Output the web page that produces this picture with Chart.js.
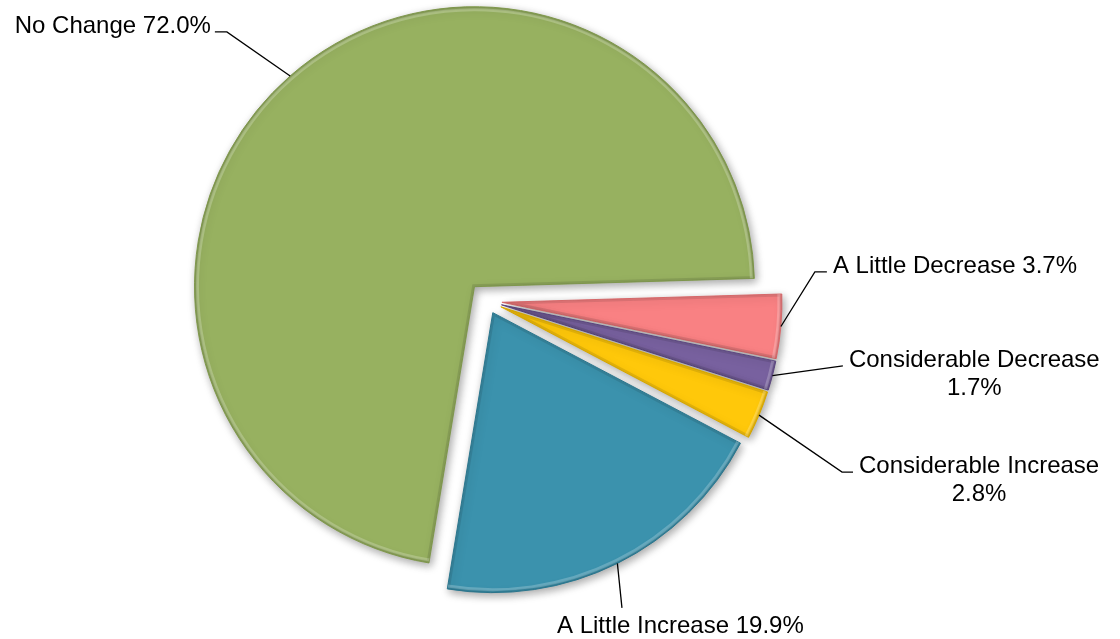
<!DOCTYPE html>
<html>
<head>
<meta charset="utf-8">
<script src="https://cdn.jsdelivr.net/npm/chart.js@4.4.0/dist/chart.umd.min.js"></script>
<style>
  html, body { margin: 0; padding: 0; background: #fff; }
  #wrap { width: 1120px; height: 639px; position: relative; }
</style>
</head>
<body>
<div id="wrap"><canvas id="pie"></canvas></div>
<script>
// data, in the drawing order (clockwise from the right)
const categories = ['A Little Decrease', 'Considerable Decrease', 'Considerable Increase', 'A Little Increase', 'No Change'];
const shares = [3.7, 1.7, 2.8, 19.9, 72.0];

// looks
const sliceColors = ['#F98183', '#78619F', '#FFC80A', '#3B92AD', '#97B160'];
const sliceEdges = ['#E06E70', '#5F4A85', '#E0AE00', '#2F7C94', '#869F52'];
const explodeBy = [15, 15, 15, 13, 19];
// label elbow in radius units from the pie centre
const labelSpots = [
    { dx: 1.171, dy: -0.104, tail: 12, side: 'right', wrap: false },
    { dx: 1.271, dy: 0.232, tail: 0, side: 'right', wrap: true },
    { dx: 1.268, dy: 0.611, tail: 11, side: 'right', wrap: true },
    { dx: 0.482, dy: 1.096, tail: 0, side: 'below', wrap: false },
    { dx: -0.929, dy: -0.961, tail: -12, side: 'left', wrap: false }
];
const labelFont = '24px "Liberation Sans", Arial, sans-serif';

function midOf(arc) {
    return (arc.startAngle + arc.endAngle) / 2;
}

// draw the slices pulled out from the centre, with a soft shadow
const explodePlugin = {
    id: 'explode',
    beforeDatasetDraw(chart, args) {
        const ctx = chart.ctx;
        args.meta.data.forEach((arc, i) => {
            const mid = midOf(arc);
            ctx.save();
            ctx.translate(Math.cos(mid) * explodeBy[i], Math.sin(mid) * explodeBy[i]);
            ctx.shadowColor = 'rgba(0,0,0,0.35)';
            ctx.shadowBlur = 8;
            ctx.shadowOffsetX = 2;
            ctx.shadowOffsetY = 3;
            arc.draw(ctx);
            ctx.shadowColor = 'transparent';

            // a little bevel on the rim
            ctx.beginPath();
            ctx.moveTo(arc.x, arc.y);
            ctx.arc(arc.x, arc.y, arc.outerRadius, arc.startAngle, arc.endAngle);
            ctx.closePath();
            ctx.clip();
            ctx.lineWidth = 5;
            ctx.strokeStyle = 'rgba(0,0,0,0.10)';
            ctx.stroke();
            ctx.beginPath();
            ctx.arc(arc.x, arc.y, arc.outerRadius - 3, arc.startAngle, arc.endAngle);
            ctx.lineWidth = 3;
            ctx.strokeStyle = 'rgba(255,255,255,0.22)';
            ctx.stroke();
            ctx.restore();
        });
        return false;
    }
};

// data labels with leader lines
const labelPlugin = {
    id: 'leaders',
    afterDatasetsDraw(chart) {
        const ctx = chart.ctx;
        const meta = chart.getDatasetMeta(0);
        ctx.save();
        ctx.font = labelFont;
        ctx.fillStyle = '#000';
        ctx.strokeStyle = '#000';
        ctx.lineWidth = 1.3;
        meta.data.forEach((arc, i) => {
            const spot = labelSpots[i];
            const mid = midOf(arc);
            const r = arc.outerRadius;
            const ax = arc.x + Math.cos(mid) * (explodeBy[i] + r);
            const ay = arc.y + Math.sin(mid) * (explodeBy[i] + r);
            const ex = arc.x + spot.dx * r;
            const ey = arc.y + spot.dy * r;
            const tx = ex + spot.tail;

            ctx.beginPath();
            ctx.moveTo(ax, ay);
            ctx.lineTo(ex, ey);
            ctx.lineTo(tx, ey);
            ctx.stroke();

            const pct = shares[i].toFixed(1) + '%';
            const lines = spot.wrap ? [categories[i], pct] : [categories[i] + ' ' + pct];
            const widths = lines.map(t => ctx.measureText(t).width);
            const blockW = Math.max(...widths);

            let left, base;
            if (spot.side === 'left') {
                left = tx - 4 - blockW;
                base = ey + 1;
            } else if (spot.side === 'right') {
                left = tx + 6;
                base = ey + 1;
            } else {
                left = ex - 65;
                base = ey + 25;
            }
            ctx.textBaseline = 'alphabetic';
            ctx.textAlign = 'center';
            lines.forEach((t, k) => {
                ctx.fillText(t, left + blockW / 2, base + k * 28);
            });
        });
        ctx.restore();
    }
};

new Chart(document.getElementById('pie'), {
    type: 'pie',
    data: {
        labels: categories,
        datasets: [{
            data: shares,
            backgroundColor: sliceColors,
            borderColor: sliceEdges,
            borderWidth: 1
        }]
    },
    options: {
        responsive: true,
        maintainAspectRatio: false,
        animation: false,
        radius: 280,
        rotation: 88.3,
        layout: { padding: { left: 0, right: 146, top: 0, bottom: 37 } },
        plugins: {
            legend: { display: false },
            tooltip: { enabled: false }
        }
    },
    plugins: [explodePlugin, labelPlugin]
});
</script>
</body>
</html>
